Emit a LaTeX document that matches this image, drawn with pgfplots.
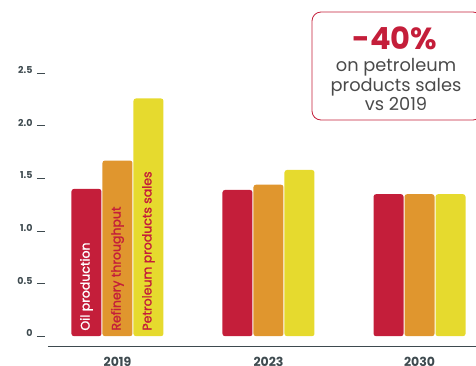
\documentclass[border=0pt]{standalone}
\usepackage{fontspec}
\setmainfont{Poppins}
\newfontfamily\medfont[FakeBold=1.5]{Poppins}
\usepackage{pgfplots}
\pgfplotsset{compat=1.18}
\definecolor{cRed}{HTML}{C41E3A}
\definecolor{cOrange}{HTML}{E0962E}
\definecolor{cYellow}{HTML}{E6DA2E}
\definecolor{cGray}{HTML}{3E4A4F}
\definecolor{cText}{HTML}{4A4A4A}
\begin{document}
\begin{tikzpicture}
\path[use as bounding box] (0pt,0pt) rectangle (476pt,-365pt);
\begin{axis}[
  at={(48pt,-346.7pt)}, anchor=south west,
  scale only axis, width=428pt, height=346.7pt,
  xmin=-0.46, xmax=2.374, ymin=-0.1, ymax=3.196,
  ybar=1pt, bar width=30pt,
  axis x line*=bottom, axis y line*=left,
  y axis line style={draw=none},
  x axis line style={cGray, line width=1.2pt, -},
  xtick={0,1,2}, xticklabels={2019,2023,2030},
  x tick style={draw=none},
  xticklabel style={font=\fontsize{12.5}{13}\selectfont\bfseries, text=cGray, yshift=1pt},
  ytick={0,0.5,1,1.5,2,2.5}, yticklabels={0,0.5,1.0,1.5,2.0,2.5},
  tick align=outside, major tick length=8pt,
  y tick style={cGray, line width=0.9pt, xshift=-3pt},
  yticklabel style={font=\fontsize{9.5}{10}\selectfont\bfseries, text=cGray, xshift=-4pt, yshift=3pt},
  /pgf/number format/assume math mode=true,
]
\addplot[fill=cRed, draw=none, rounded corners=2.5pt] coordinates {(0,1.40) (1,1.39) (2,1.35)};
\addplot[fill=cOrange, draw=none, rounded corners=2.5pt] coordinates {(0,1.67) (1,1.44) (2,1.35)};
\addplot[fill=cYellow, draw=none, rounded corners=2.5pt] coordinates {(0,2.26) (1,1.58) (2,1.35)};
\node[xshift=-31pt, rotate=90, anchor=west, text=white, font=\fontsize{12.5}{12.5}\medfont] at (axis cs:0,0.02) {Oil production};
\node[rotate=90, anchor=west, text=cRed, font=\fontsize{12.5}{12.5}\medfont] at (axis cs:0,0.02) {Refinery throughput};
\node[xshift=31pt, rotate=90, anchor=west, text=cRed, font=\fontsize{12.5}{12.5}\medfont] at (axis cs:0,0.02) {Petroleum products sales};
\end{axis}
\draw[cRed, line width=0.8pt, rounded corners=9pt] (312pt,-12pt) rectangle (482pt,-120pt);
\node[inner sep=0pt, text=cRed, font=\fontsize{30.5}{30.5}\selectfont\bfseries] at (395pt,-38.5pt) {-40\%};
\node[inner sep=0pt, text=cText, align=center, font=\fontsize{17.8}{19.5}\selectfont] at (396pt,-84.5pt) {on petroleum\\products sales\\vs 2019};
\end{tikzpicture}
\end{document}
